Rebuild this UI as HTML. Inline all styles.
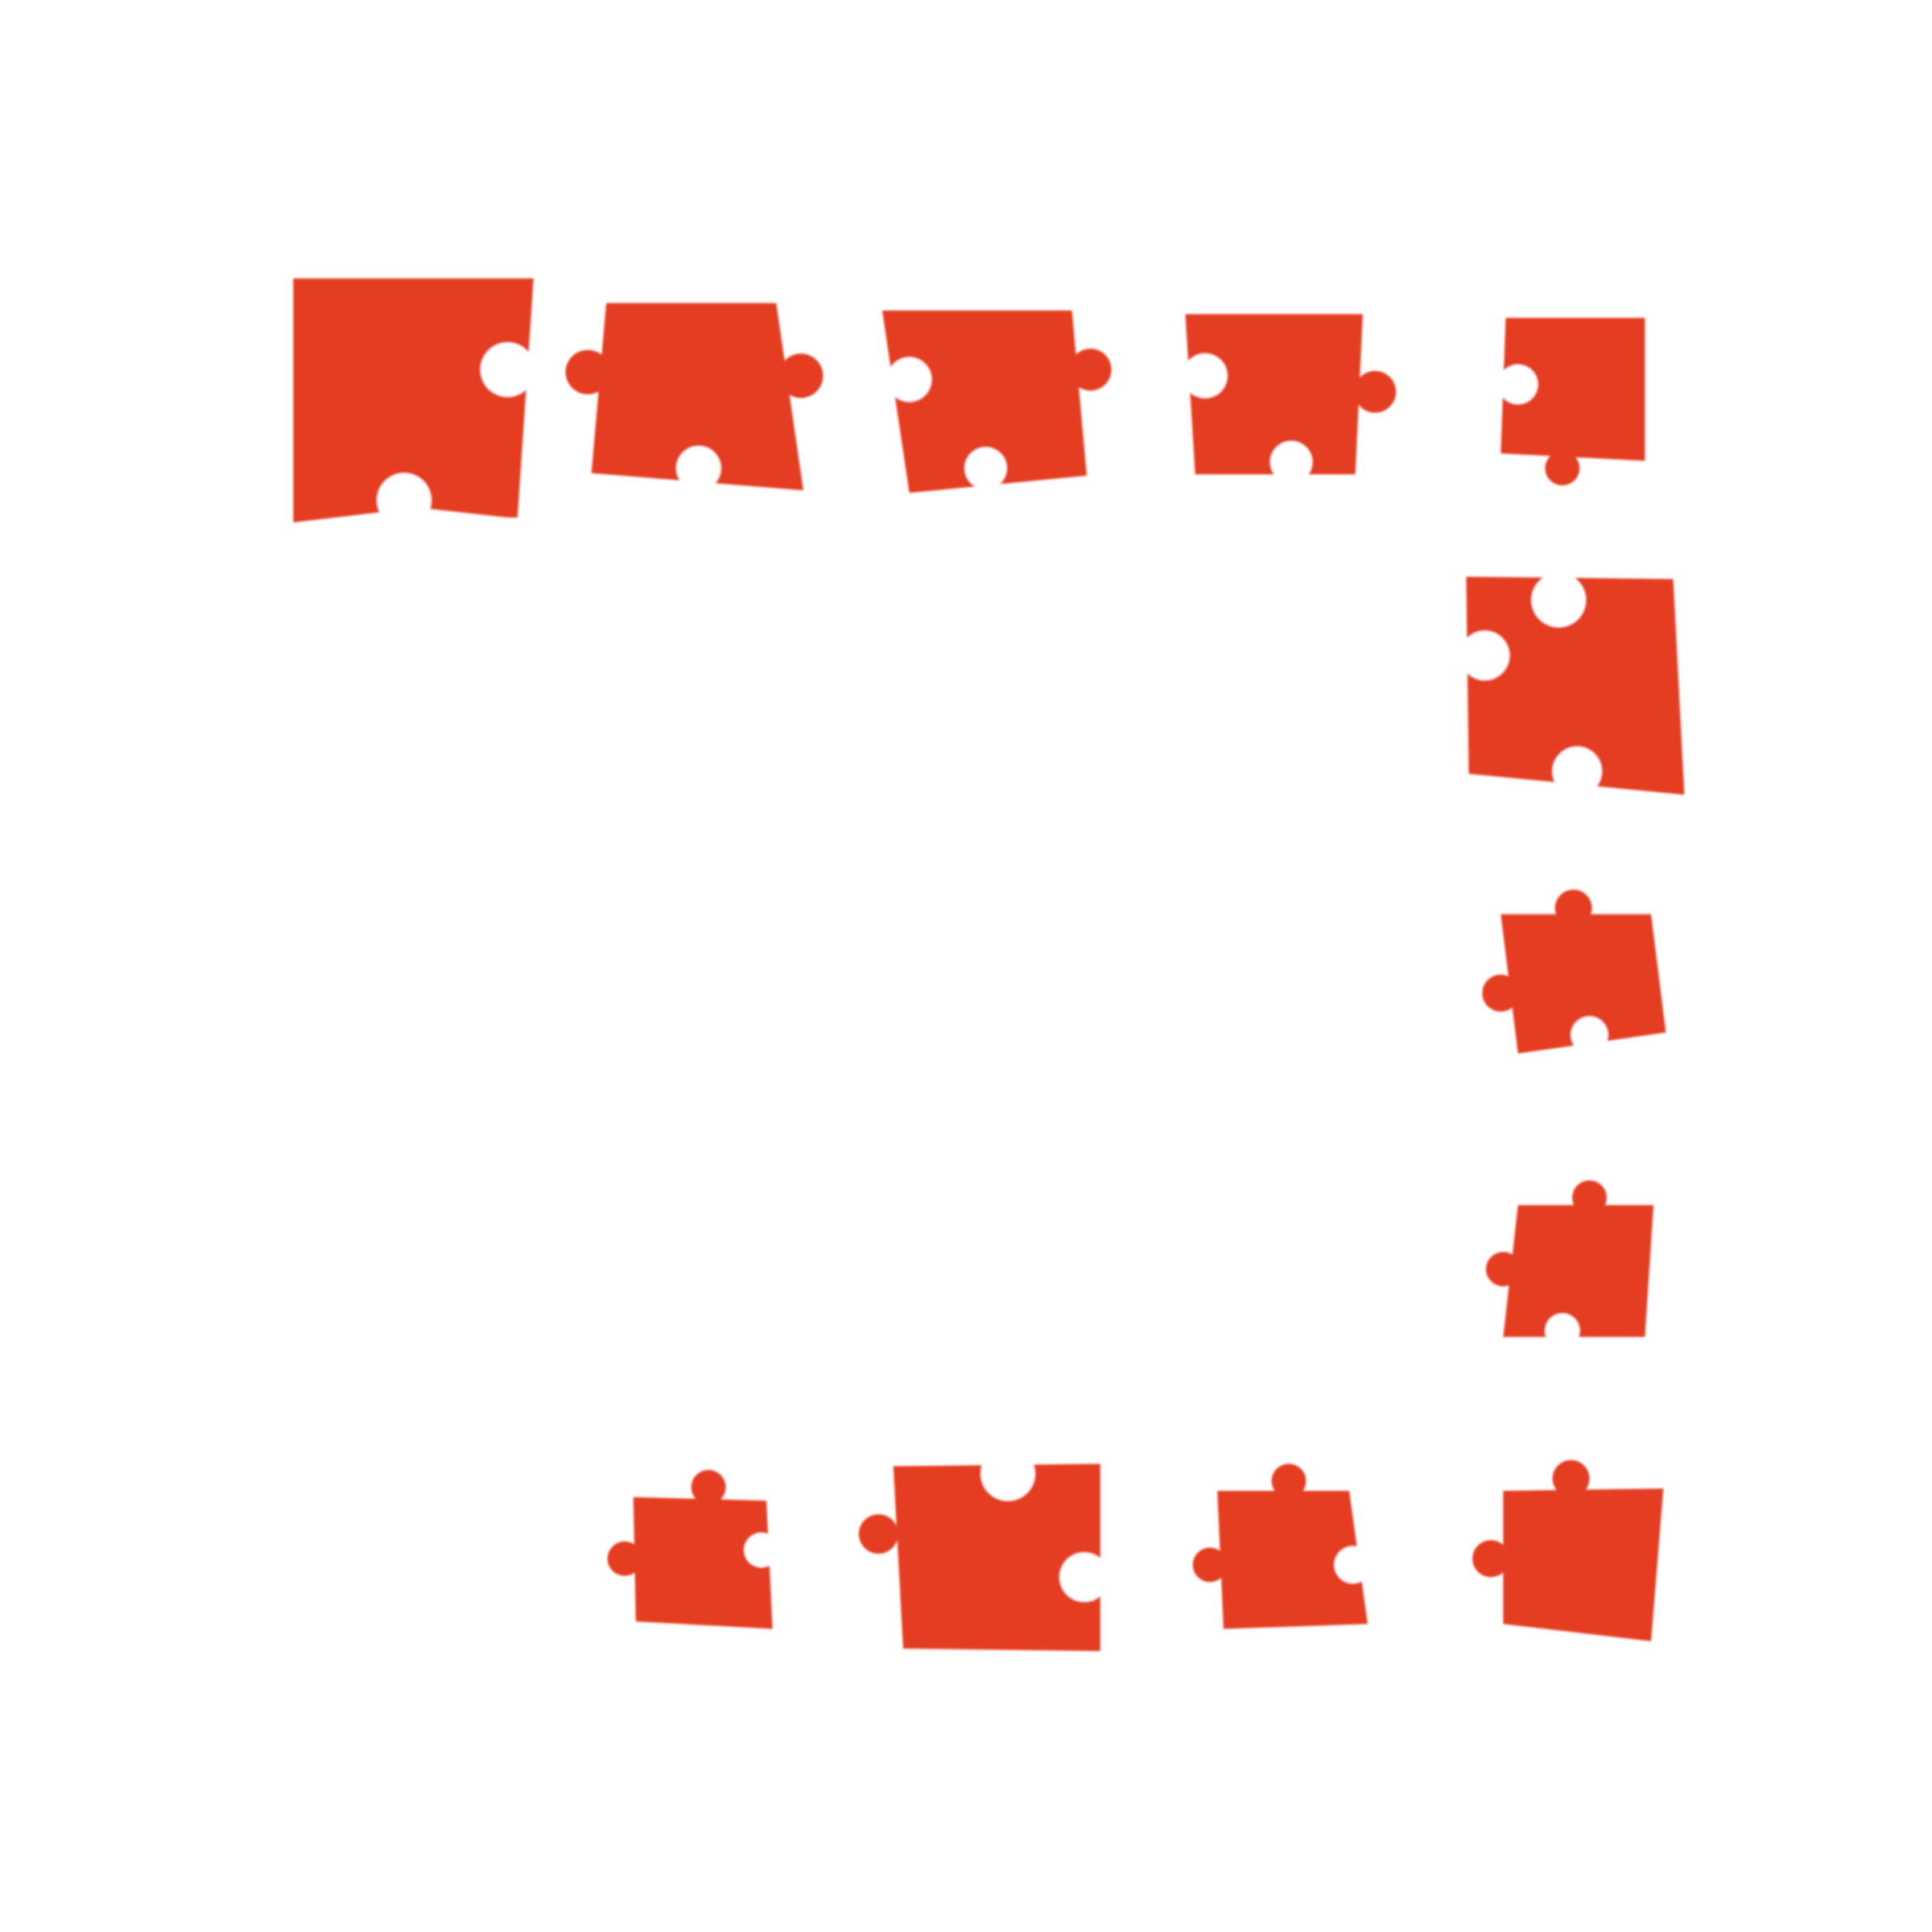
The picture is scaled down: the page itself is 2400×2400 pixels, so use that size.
<!DOCTYPE html>
<html><head><meta charset="utf-8"><style>
html,body{margin:0;padding:0;background:#fff;}
svg{display:block;}
.p{fill:#E53E24;}
.h{fill:#fff;}
</style></head><body>
<svg width="2400" height="2400" viewBox="0 0 1568 1568" xmlns="http://www.w3.org/2000/svg">
<defs><filter id="s" x="-10%" y="-10%" width="120%" height="120%"><feGaussianBlur stdDeviation="0.8"/></filter></defs>
<g filter="url(#s)">
<g><polygon class="p" points="238,226 433,226 420,420 412,420 340,412 238,424"/><circle class="h" cx="412" cy="300" r="22"/><circle class="h" cx="328" cy="406" r="22"/></g>
<g><polygon class="p" points="492,246 630,246 652,398 480,384"/><circle class="p" cx="477" cy="302" r="18"/><circle class="p" cx="650" cy="305" r="18"/><circle class="h" cx="567" cy="380" r="18"/></g>
<g><polygon class="p" points="716,252 870,252 882,386 738,400"/><circle class="h" cx="738" cy="308" r="18"/><circle class="p" cx="885" cy="300" r="17"/><circle class="h" cx="800" cy="380" r="17"/></g>
<g><polygon class="p" points="962,255 1106,255 1100,385 970,385"/><circle class="h" cx="978" cy="305" r="18"/><circle class="p" cx="1116" cy="318" r="17"/><circle class="h" cx="1048" cy="375" r="17"/></g>
<g><polygon class="p" points="1222,258 1335,258 1335,374 1218,368"/><circle class="h" cx="1232" cy="312" r="16"/><circle class="p" cx="1268" cy="380" r="14"/></g>
<g><polygon class="p" points="1190,468 1358,470 1367,645 1192,628"/><circle class="h" cx="1265" cy="487" r="22"/><circle class="h" cx="1205" cy="532" r="20"/><circle class="h" cx="1280" cy="626" r="20"/></g>
<g><polygon class="p" points="1218,742 1340,742 1352,838 1232,855"/><circle class="p" cx="1277" cy="737" r="15"/><circle class="p" cx="1218" cy="806" r="15"/><circle class="h" cx="1290" cy="840" r="15"/></g>
<g><polygon class="p" points="1232,978 1342,978 1335,1085 1220,1085"/><circle class="p" cx="1290" cy="972" r="14"/><circle class="p" cx="1220" cy="1030" r="14"/><circle class="h" cx="1268" cy="1080" r="14"/></g>
<g><polygon class="p" points="514,1215 622,1218 627,1322 516,1316"/><circle class="p" cx="575" cy="1207" r="14"/><circle class="p" cx="507" cy="1265" r="14"/><circle class="h" cx="618" cy="1258" r="14"/></g>
<g><polygon class="p" points="725,1190 893,1188 893,1340 733,1338"/><circle class="h" cx="818" cy="1196" r="22"/><circle class="p" cx="713" cy="1245" r="16"/><circle class="h" cx="880" cy="1280" r="20"/></g>
<g><polygon class="p" points="988,1210 1095,1210 1110,1318 993,1322"/><circle class="p" cx="1046" cy="1202" r="14"/><circle class="p" cx="982" cy="1270" r="14"/><circle class="h" cx="1098" cy="1270" r="15"/></g>
<g><polygon class="p" points="1220,1210 1350,1208 1340,1332 1220,1318"/><circle class="p" cx="1275" cy="1200" r="15"/><circle class="p" cx="1210" cy="1265" r="15"/></g>
</g>
</svg>
</body></html>
